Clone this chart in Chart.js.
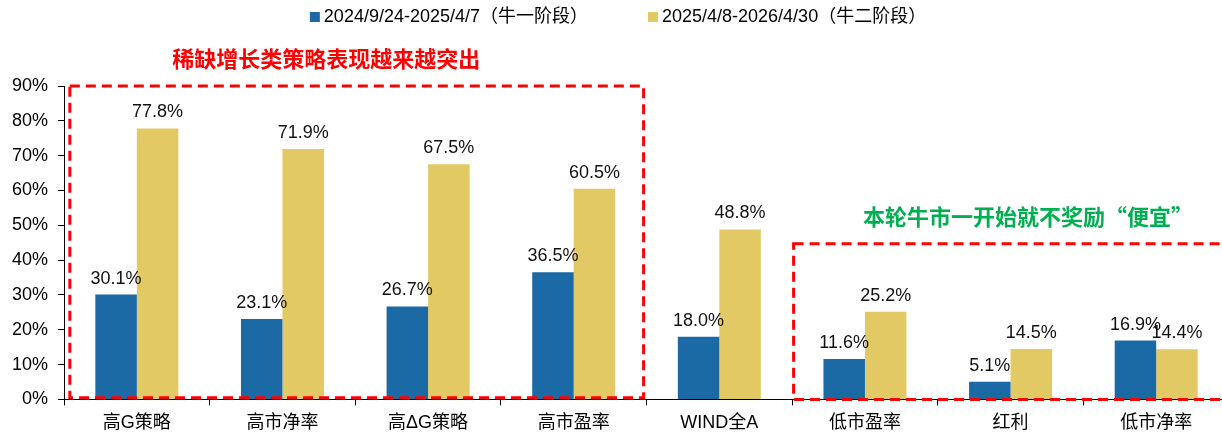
<!DOCTYPE html>
<html>
<head>
<meta charset="utf-8">
<script src="https://cdn.jsdelivr.net/npm/chart.js@4/dist/chart.umd.min.js"></script>
<style>
    html, body { margin: 0; padding: 0; background: #ffffff; overflow: hidden; }
    /* the plot runs a few pixels past the right edge, like the original */
    #wrap { width: 1229px; height: 433px; }
</style>
</head>
<body>
<div id="wrap"><canvas id="chart"></canvas></div>
<script>
// strategy categories along the x axis
const categories = ['高G策略', '高市净率', '高ΔG策略', '高市盈率', 'WIND全A', '低市盈率', '红利', '低市净率'];

// returns in percent
const phase1Values = [30.1, 23.1, 26.7, 36.5, 18.0, 11.6, 5.1, 16.9];
const phase2Values = [77.8, 71.9, 67.5, 60.5, 48.8, 25.2, 14.5, 14.4];

const seriesNames = ['2024/9/24-2025/4/7（牛一阶段）', '2025/4/8-2026/4/30（牛二阶段）'];

// y axis ticks
const yTicks = [0, 10, 20, 30, 40, 50, 60, 70, 80, 90];

// the two callouts
const noteTop = '稀缺增长类策略表现越来越突出';
const noteRight = '本轮牛市一开始就不奖励“便宜”';

const COLOR_BLUE = '#1b6aa5';
const COLOR_GOLD = '#e3c964';
const COLOR_RED = '#ff0000';
const COLOR_GREEN = '#00b050';

const FONT_LATIN = '"Liberation Sans", Arial, "Noto Sans CJK SC", sans-serif';


// writes the value above every bar
const valueLabels = {
    id: 'valueLabels',
    afterDatasetsDraw(chart) {
        const ctx = chart.ctx;
        ctx.save();
        ctx.font = '18px ' + FONT_LATIN;
        ctx.fillStyle = '#111111';
        ctx.textAlign = 'center';
        ctx.textBaseline = 'bottom';
        chart.data.datasets.forEach(function(ds, i) {
            const meta = chart.getDatasetMeta(i);
            meta.data.forEach(function(bar, j) {
                ctx.fillText(ds.data[j].toFixed(1) + '%', bar.x, bar.y - 7);
            });
        });
        ctx.restore();
    }
};


// dashed boxes, the two notes and the legend
const extras = {
    id: 'extras',
    afterDraw(chart) {
        const ctx = chart.ctx;
        const x = chart.scales.x;
        const y = chart.scales.y;

        ctx.save();
        ctx.strokeStyle = COLOR_RED;
        ctx.lineWidth = 3;
        ctx.setLineDash([10, 6]);

        // box round the growth strategies
        const l1 = x.getPixelForValue(-0.46);
        const r1 = x.getPixelForValue(3.48);
        const t1 = y.getPixelForValue(90);
        const b1 = y.getPixelForValue(0.5);
        ctx.strokeRect(l1, t1, r1 - l1, b1 - t1);

        // box round the value strategies, open on the right
        const l2 = x.getPixelForValue(4.51);
        const r2 = chart.width + 20;
        const t2 = y.getPixelForValue(44.7);
        const b2 = y.getPixelForValue(0);
        ctx.strokeRect(l2, t2, r2 - l2, b2 - t2);
        ctx.restore();

        // notes
        ctx.save();
        ctx.textAlign = 'center';
        ctx.textBaseline = 'middle';
        ctx.font = 'bold 22px "Noto Sans CJK SC", sans-serif';
        ctx.fillStyle = COLOR_RED;
        ctx.fillText(noteTop, x.getPixelForValue(1.3), y.getPixelForValue(98));
        ctx.fillStyle = COLOR_GREEN;
        ctx.fillText(noteRight, x.getPixelForValue(6.12), y.getPixelForValue(52.5));
        ctx.restore();

        // legend
        ctx.save();
        ctx.font = '18px ' + FONT_LATIN;
        ctx.textBaseline = 'middle';
        ctx.textAlign = 'left';
        const gap = 60;
        let total = 0;
        const widths = [];
        chart.data.datasets.forEach(function(ds) {
            const w = ctx.measureText(ds.label).width;
            widths.push(w);
            total += 10 + 4 + w;
        });
        total += gap * (widths.length - 1);
        let cx = chart.width / 2 + 3.5 - total / 2;
        chart.data.datasets.forEach(function(ds, i) {
            ctx.fillStyle = ds.backgroundColor;
            ctx.fillRect(cx, 12, 10, 10);
            ctx.fillStyle = '#000000';
            ctx.fillText(ds.label, cx + 14, 17);
            cx += 14 + widths[i] + gap;
        });
        ctx.restore();
    }
};


const ctx = document.getElementById('chart').getContext('2d');

new Chart(ctx, {
    type: 'bar',
    data: {
        labels: categories,
        datasets: [
            { label: seriesNames[0], data: phase1Values, backgroundColor: COLOR_BLUE },
            { label: seriesNames[1], data: phase2Values, backgroundColor: COLOR_GOLD }
        ]
    },
    options: {
        responsive: true,
        maintainAspectRatio: false,
        animation: false,
        layout: {
            padding: { top: 86, left: 2, right: 0, bottom: -8 }
        },
        categoryPercentage: 0.57,
        barPercentage: 1.0,
        plugins: {
            legend: { display: false },
            tooltip: { enabled: false }
        },
        scales: {
            x: {
                grid: {
                    offset: true,
                    drawOnChartArea: false,
                    drawTicks: true,
                    tickLength: 6,
                    color: '#000000'
                },
                border: { color: '#000000', width: 1 },
                ticks: {
                    padding: 7,
                    color: '#000000',
                    font: { size: 18, family: FONT_LATIN }
                }
            },
            y: {
                min: 0,
                max: 90,
                afterBuildTicks: function(axis) {
                    axis.ticks = yTicks.map(function(v) { return { value: v }; });
                },
                grid: {
                    drawOnChartArea: false,
                    tickLength: 6,
                    color: '#000000'
                },
                border: { color: '#000000', width: 1 },
                ticks: {
                    padding: 10,
                    color: '#000000',
                    font: { size: 18, family: FONT_LATIN },
                    callback: function(v) { return v + '%'; }
                }
            }
        }
    },
    plugins: [valueLabels, extras]
});
</script>
</body>
</html>
